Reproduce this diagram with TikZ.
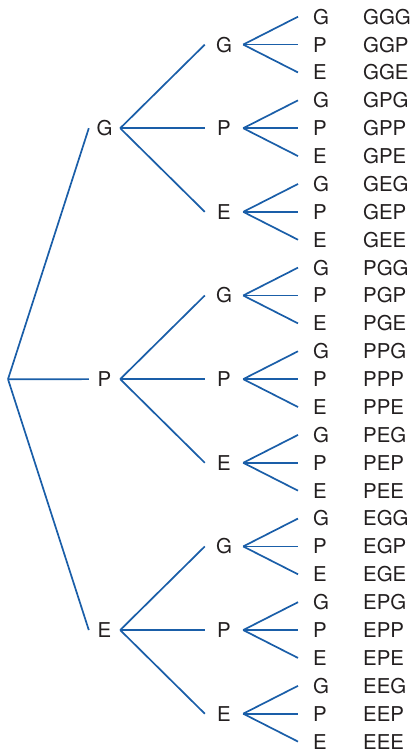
\documentclass[tikz,border=0pt]{standalone}
\usepackage{fontspec}
\setmainfont{TeX Gyre Heros}
\definecolor{treeblue}{HTML}{1A5EA8}
\definecolor{txt}{HTML}{231F20}
\begin{document}
\begin{tikzpicture}[x=1bp,y=-1bp,
  branch/.style={draw=treeblue,line width=1.7bp},
  lvlone/.style={inner sep=0,minimum width=31bp,minimum height=16bp,text=txt,font=\fontsize{20.5}{20.5}\selectfont},
  lvltwo/.style={inner sep=0,minimum width=38bp,minimum height=16bp,text=txt,font=\fontsize{20.5}{20.5}\selectfont},
  leaf/.style={anchor=west,inner ysep=0,inner xsep=0,text=txt,font=\fontsize{20.5}{20.5}\selectfont},
  combo/.style={anchor=west,inner sep=0,text=txt,font=\fontsize{20.5}{20.5}\selectfont}]
\useasboundingbox (0,0) rectangle (414,751);
\def\dd{27.88}
\coordinate (root) at (8,379.2);
\foreach \a/\A in {0/G,1/P,2/E}{
  \node[lvlone] (l1-\a) at (104.5,{16.7+\dd*(4+9*\a)}) {\A};
  \draw[branch] (root) -- (l1-\a.west);
  \foreach \b/\B in {0/G,1/P,2/E}{
    \node[lvltwo] (l2-\a-\b) at (224,{16.7+\dd*(1+9*\a+3*\b)}) {\B};
    \draw[branch] (l1-\a.east) -- (l2-\a-\b.west);
    \foreach \c/\C in {0/G,1/P,2/E}{
      \coordinate (end-\a-\b-\c) at (298,{16.7+\dd*(9*\a+3*\b+\c)});
      \node[leaf] (leaf-\a-\b-\c) at (313,{16.7+\dd*(9*\a+3*\b+\c)}) {\C};
      \node[combo] (combo-\a-\b-\c) at (363,{16.7+\dd*(9*\a+3*\b+\c)}) {\A\B\C};
      \draw[branch] (l2-\a-\b.east) -- (end-\a-\b-\c);
    }
  }
}
\end{tikzpicture}
\end{document}
